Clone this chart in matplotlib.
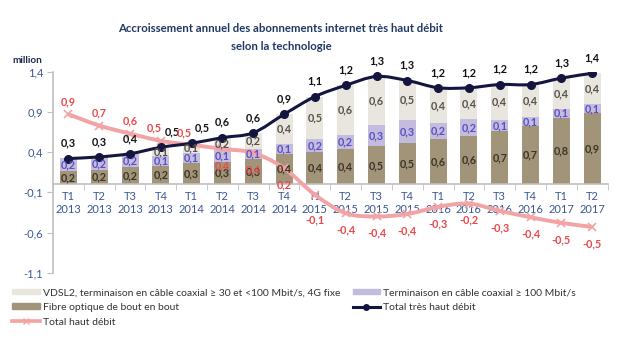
import numpy as np
import matplotlib
matplotlib.use('Agg')
import matplotlib.pyplot as plt
from matplotlib.path import Path
from matplotlib.patches import PathPatch, Patch
from matplotlib.lines import Line2D

plt.rcParams['font.family'] = ['Lato', 'DejaVu Sans']

## data (million)
quarters = ['T1\n2013', 'T2\n2013', 'T3\n2013', 'T4\n2013',
            'T1\n2014', 'T2\n2014', 'T3\n2014', 'T4\n2014',
            'T1\n2015', 'T2\n2015', 'T3\n2015', 'T4\n2015',
            'T1\n2016', 'T2\n2016', 'T3\n2016', 'T4\n2016',
            'T1\n2017', 'T2\n2017']
fibre = [0.16, 0.18, 0.21, 0.23, 0.26, 0.28, 0.31, 0.38, 0.40, 0.44,
         0.47, 0.51, 0.56, 0.60, 0.66, 0.72, 0.83, 0.88]
cable100 = [0.17, 0.16, 0.17, 0.12, 0.13, 0.14, 0.13, 0.12, 0.16, 0.17,
            0.27, 0.29, 0.20, 0.21, 0.14, 0.12, 0.11, 0.12]
vdsl = [0.0, 0.0, 0.0, 0.11, 0.12, 0.16, 0.20, 0.37, 0.53, 0.62,
        0.60, 0.49, 0.44, 0.39, 0.44, 0.40, 0.38, 0.38]
total_thd = [0.32, 0.34, 0.38, 0.46, 0.51, 0.58, 0.64, 0.87, 1.09, 1.23,
             1.34, 1.29, 1.20, 1.20, 1.24, 1.24, 1.32, 1.38]
total_hd = [0.87, 0.73, 0.63, 0.54, 0.49, 0.44, 0.39, 0.20, -0.13, -0.36,
            -0.40, -0.37, -0.28, -0.24, -0.33, -0.41, -0.48, -0.53]

yticks = [-1.1, -0.6, -0.1, 0.4, 0.9, 1.4]

c_fibre = '#A29479'
c_cable = '#C3BCDD'
c_vdsl = '#E9E6DF'
c_thd = '#15163F'
c_hd = '#F2A3A4'
c_hd_txt = '#E9484C'
c_tick = '#3A5795'
lab_fs = 7.8


def fmt(v):
    return ('%.1f' % v).replace('.', ',')


def smooth_path(x, y):
    # cubic bezier through every point (catmull-rom style)
    pts = np.column_stack([x, y]).astype(float)
    verts = [pts[0]]
    codes = [Path.MOVETO]
    n = len(pts)
    for i in range(n - 1):
        p0 = pts[max(i - 1, 0)]
        p1 = pts[i]
        p2 = pts[i + 1]
        p3 = pts[min(i + 2, n - 1)]
        verts += [p1 + (p2 - p0) / 6.0, p2 - (p3 - p1) / 6.0, p2]
        codes += [Path.CURVE4] * 3
    return Path(verts, codes)


x = np.arange(len(quarters))
fibre = np.array(fibre)
cable100 = np.array(cable100)
vdsl = np.array(vdsl)

fig = plt.figure(figsize=(6.2, 3.38), dpi=100)
ax = fig.add_axes([0.0855, 0.193, 0.8945, 0.595])

w = 0.55
ax.bar(x, fibre, w, color=c_fibre, zorder=2)
ax.bar(x, cable100, w, bottom=fibre, color=c_cable, zorder=2)
ax.bar(x, vdsl, w, bottom=fibre + cable100, color=c_vdsl, zorder=2)

for i in range(len(x)):
    ax.text(x[i], fibre[i] / 2, fmt(fibre[i]), ha='center', va='center',
            fontsize=lab_fs, fontweight='bold', color='#3B3428', zorder=5)
    ax.text(x[i], fibre[i] + cable100[i] / 2, fmt(cable100[i]), ha='center',
            va='center', fontsize=lab_fs, fontweight='bold', color='#5A4FC8', zorder=5)
    if vdsl[i] > 0.05:
        ax.text(x[i], fibre[i] + cable100[i] + vdsl[i] / 2, fmt(vdsl[i]),
                ha='center', va='center', fontsize=lab_fs, fontweight='bold',
                color='#55524C', zorder=5)

# lines
ax.add_patch(PathPatch(smooth_path(x, total_hd), facecolor='none',
                       edgecolor=c_hd, lw=2.8, zorder=3))
ax.plot(x, total_hd, ls='none', marker='x', ms=6, mew=1.2, color=c_hd, zorder=3)
ax.add_patch(PathPatch(smooth_path(x, total_thd), facecolor='none',
                       edgecolor=c_thd, lw=2.2, zorder=4))
ax.plot(x, total_thd, ls='none', marker='o', ms=5.5, color=c_thd, zorder=4)

for i in range(len(x)):
    dx_thd = 8 if i in (3, 4) else 0
    ax.annotate(fmt(total_thd[i]), (x[i], total_thd[i]), xytext=(dx_thd, 11),
                textcoords='offset points', ha='center', va='center',
                fontsize=lab_fs, fontweight='bold', color='#111111', zorder=6)
    if i <= 4:
        dx = -5 if i in (3, 4) else 0
        off = (dx, 9)
    elif i == 8:
        off = (0, -18)
    else:
        off = (0, -12)
    ax.annotate(fmt(total_hd[i]), (x[i], total_hd[i]), xytext=off,
                textcoords='offset points', ha='center', va='center',
                fontsize=lab_fs, fontweight='bold', color=c_hd_txt, zorder=6)

ax.set_xlim(-0.5, len(x) - 0.5)
ax.set_ylim(-1.1, 1.4)
ax.set_yticks(yticks)
ax.set_yticklabels([fmt(v) for v in yticks])
ax.set_xticks(x)
ax.set_xticklabels(quarters, linespacing=1.35)
ax.set_xticks(np.arange(-0.5, len(x), 1.0), minor=True)
ax.tick_params(axis='x', which='major', length=0, pad=5, labelsize=8,
               labelcolor=c_tick)
ax.tick_params(axis='x', which='minor', length=4, color='#BFBFBF', direction='out')
ax.tick_params(axis='y', length=4, color='#BFBFBF', labelsize=8,
               labelcolor=c_tick, pad=3)

ax.spines['top'].set_visible(False)
ax.spines['right'].set_visible(False)
ax.spines['bottom'].set_position(('data', 0))
for s in ('left', 'bottom'):
    ax.spines[s].set_color('#BFBFBF')
    ax.spines[s].set_linewidth(1.2)

fig.text(0.453, 0.915, 'Accroissement annuel des abonnements internet très haut débit',
         ha='center', va='center', fontsize=8.2, fontweight='bold', color='#1F3864')
fig.text(0.453, 0.862, 'selon la technologie', ha='center', va='center',
         fontsize=8.2, fontweight='bold', color='#1F3864')
fig.text(0.02, 0.82, 'million', ha='left', va='center', fontsize=7.2,
         fontweight='bold', color='#1F2A4A')

handles = [Patch(color=c_vdsl), Patch(color=c_fibre),
           Line2D([], [], color=c_hd, lw=2.6, marker='x', ms=5),
           Patch(color=c_cable),
           Line2D([], [], color=c_thd, lw=2.2, marker='o', ms=4)]
labels = ['VDSL2, terminaison en câble coaxial ≥ 30 et <100 Mbit/s, 4G fixe',
          'Fibre optique de bout en bout', 'Total haut débit',
          'Terminaison en câble coaxial ≥ 100 Mbit/s', 'Total très haut débit']
fig.legend(handles, labels, ncol=2, loc='upper left', bbox_to_anchor=(0.005, 0.175),
           frameon=False, fontsize=7.5, handlelength=2.6, handleheight=0.5,
           handletextpad=0.3, columnspacing=1.2, labelspacing=0.55,
           labelcolor='#333333')

plt.savefig('out.png', dpi=100)
